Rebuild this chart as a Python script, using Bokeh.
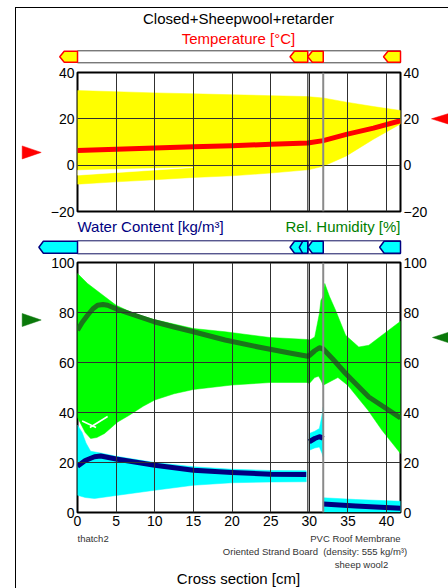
from bokeh.plotting import figure
from bokeh.models import Range1d, LinearAxis, FixedTicker, Span
from bokeh.layouts import column, row
from bokeh.core.properties import value
from bokeh.embed import file_html
from bokeh.resources import INLINE

# ------------------------------------------------------------------ data
TITLE = "Closed+Sheepwool+retarder"
X_TICKS = [0, 5, 10, 15, 20, 25, 30, 35, 40]
T_TICKS = [-20, 0, 20, 40]
M_TICKS = [0, 20, 40, 60, 80, 100]
LAYER_EDGES = [0, 29.8, 30.0, 31.8, 41.8]
LAYER_NAMES = ["thatch2", "PVC Roof Membrane",
               "Oriented Strand Board\u00a0\u00a0(density: 555 kg/m\u00b3)", "sheep wool2"]

# temperature [°C]
T_X    = [0, 5, 10, 15, 20, 25, 29.8, 30.0, 31.8, 34.8, 38.3, 41.8]
T_MEAN = [6.3, 6.9, 7.4, 7.9, 8.4, 9.0, 9.6, 9.7, 10.6, 13.3, 16.0, 19.2]
T_MAX  = [32.2, 31.7, 31.2, 30.8, 30.4, 30.0, 29.6, 29.5, 29.0, 27.2, 25.3, 23.6]
T_MIN  = [-8.2, -7.2, -6.3, -5.3, -4.6, -3.4, -2.0, -1.9, -0.5, 4.0, 11.2, 17.8]
T_GAP_X = [0, 15, 0]
T_GAP_Y = [-2.2, -1.0, -4.3]
T_BC_LEFT = 5.5
T_BC_RIGHT = 20.0

# relative humidity [%]
RH_X    = [0, 0.6, 1.3, 2.0, 2.6, 3.3, 3.9, 5.2, 7.5, 9.9, 12.5, 15, 19.1, 23.4,
           27.8, 29.8, 30.0, 30.7, 31.3, 31.8, 33.0, 34.7, 37.7, 41.8]
RH_MEAN = [72.9, 76.0, 78.9, 81.5, 82.9, 83.2, 82.9, 81.2, 78.8, 76.3, 74.2, 72.3, 69.0, 66.2,
           63.6, 62.5, 62.8, 64.7, 65.9, 65.4, 61.5, 55.6, 46.2, 37.8]
RH_TH_X_UP = [0, 1.3, 3.0, 5.0, 7.3, 9.9, 15, 19.1, 24.9, 29.8]
RH_TH_UP   = [95.6, 91.6, 87.6, 82.9, 79.6, 77.2, 73.6, 72.3, 70.0, 69.2]
RH_TH_X_LO = [0, 0.5, 1.0, 1.7, 2.5, 3.5, 5.2, 6.7, 8.5, 10, 12.5, 15, 20, 25, 29.8]
RH_TH_LO   = [38, 35, 32, 29.6, 30, 31.6, 36.2, 38.9, 42.5, 45, 47.5, 49.2, 51, 52, 52]
RH_OSB_X_UP = [29.8, 30.0, 30.7, 31.3, 31.5, 31.8]
RH_OSB_UP   = [69.2, 68.9, 70.2, 79.6, 84.9, 86.5]
RH_OSB_X_LO = [29.8, 30.0, 30.7, 31.2, 31.5, 31.8]
RH_OSB_LO   = [52.0, 51.6, 54.0, 54.5, 52.9, 50.9]
RH_WO_X_UP = [31.8, 32.0, 32.6, 33.4, 34.7, 36.4, 37.7, 41.8]
RH_WO_UP   = [88.0, 91.6, 86.5, 80.9, 70.9, 66.2, 66.9, 76.5]
RH_WO_X_LO = [31.8, 33.7, 35.0, 37.6, 39.4, 41.8]
RH_WO_LO   = [50.9, 54.0, 50.8, 40.9, 32.9, 23.6]
RH_GAP_XS = [[0.6, 2.4], [1.6, 3.9]]
RH_GAP_YS = [[36.6, 34.0], [34.0, 38.4]]
RH_BC_LEFT = 77.0
RH_BC_RIGHT = 70.0

# water content [kg/m³]
WC_TH_X_UP = [0, 0.6, 1.1, 1.7, 3.0, 5, 10, 15, 20, 25, 29.6]
WC_TH_UP   = [35.0, 32.0, 27.8, 24.5, 23.8, 22.5, 20.0, 18.3, 17.3, 16.8, 16.7]
WC_TH_X_LO = [0, 1.0, 2.2, 5, 10, 15, 20, 25, 29.6]
WC_TH_LO   = [6.9, 6.0, 5.6, 6.8, 8.9, 10.9, 11.9, 12.2, 12.3]
WC_TH_X    = [0, 1.0, 2.2, 3.0, 5, 10, 15, 20, 25, 29.6]
WC_TH_MEAN = [18.5, 20.8, 22.3, 22.6, 21.4, 18.9, 16.9, 16.0, 15.3, 15.2]
WC_OSB_X    = [30.0, 30.7, 31.3, 31.6, 31.8]
WC_OSB_UP   = [31.6, 32.5, 33.6, 38.2, 42.2]
WC_OSB_LO   = [24.9, 25.8, 26.2, 24.0, 22.2]
WC_OSB_MEAN = [28.3, 29.6, 30.3, 30.0, 29.6]
WC_WO_X    = [31.8, 36.0, 41.8]
WC_WO_UP   = [5.9, 5.2, 4.5]
WC_WO_LO   = [0.2, 0.2, 0.2]
WC_WO_MEAN = [3.4, 2.6, 1.7]

# monitor tags (left, right) in cm
TAG_T = [(-2.3, 0.0), (27.5, 29.8), (29.8, 31.8), (39.6, 41.8)]
TAG_M = [(-5.0, 0.0), (27.5, 29.8), (28.7, 29.8), (29.8, 31.8), (39.1, 41.8)]

# ------------------------------------------------------------------ layout geometry (page px)
FONT = "Liberation Sans"
PAGE_L, PAGE_R = 16, 448          # content area (inside the outer frame line)
FX0, FX1 = 77, 400                # plot frames
X0, X1 = LAYER_EDGES[0], LAYER_EDGES[-1]
PPC = (FX1 - FX0) / (X1 - X0)
ARROW_L_W = 45 - PAGE_L
ARROW_R_W = PAGE_R - 430
MAIN_BL, MAIN_BR = FX0 - 45, 430 - FX1

# vertical bands (page y)
HEAD_T = (8, 64)
TOP = (64, 72, 211, 218)          # canvas top, frame top, frame bottom, canvas bottom
HEAD_M = (218, 255)
BOT = (255, 262, 512, 532)
FOOT = (532, 588)


def tx(px):
    return X0 + (px - FX0) / PPC


def txt(p, x, y, s, size, color="black", align="center"):
    p.text(x=[x], y=[y], text=[s], text_font=value(FONT), text_font_size=value(size),
           text_color=color, text_align=value(align), text_baseline=value("middle"))


def bare(p):
    p.outline_line_color = None
    p.background_fill_color = "white"
    p.border_fill_color = "white"
    for g in p.grid:
        g.visible = False
    return p


def strip(band_):
    top, bot = band_
    p = figure(frame_width=PAGE_R - PAGE_L, frame_height=bot - top, min_border=0,
               x_range=Range1d(tx(PAGE_L), tx(PAGE_R)), y_range=Range1d(bot, top),
               x_axis_location=None, y_axis_location=None,
               output_backend="svg", toolbar_location=None)
    return bare(p)


def tag_shape(left, right, y_top, y_bot):
    n = min(4.5 / PPC, (right - left) * 0.4)
    return ([left, left + n, right, right, left + n],
            [(y_top + y_bot) / 2, y_top, y_top, y_bot, y_bot])


def bar(p, y_top, y_bot, tags, fill, line, outline):
    p.patch([X0, X1, X1, X0], [y_top, y_top, y_bot, y_bot], fill_color="white",
            line_color=outline, line_width=1)
    for l, r in tags:
        xs, ys = tag_shape(l, r, y_top + 0.5, y_bot - 0.5)
        p.patch(xs, ys, fill_color=fill, line_color=line, line_width=1.5)


def main_fig(bands, y_lo, y_hi, ticks, show_x):
    ctop, ftop, fbot, cbot = bands
    p = figure(frame_width=FX1 - FX0, frame_height=fbot - ftop,
               min_border_left=MAIN_BL, min_border_right=MAIN_BR,
               min_border_top=ftop - ctop, min_border_bottom=cbot - fbot,
               x_range=Range1d(X0, X1), y_range=Range1d(y_lo, y_hi),
               output_backend="svg", toolbar_location=None)
    p.outline_line_color = "black"
    p.outline_line_width = 2
    p.background_fill_color = "white"
    p.border_fill_color = "white"
    p.add_layout(LinearAxis(), "right")
    axes = list(p.yaxis) + ([p.xaxis[0]] if show_x else [])
    for ax in axes:
        ax.axis_line_color = None
        ax.major_tick_line_color = None
        ax.minor_tick_line_color = None
        ax.major_tick_in = 0
        ax.major_tick_out = 0
        ax.major_label_standoff = 3
        ax.major_label_text_font = FONT
        ax.major_label_text_font_size = "14px"
        ax.major_label_text_color = "black"
    for ax in p.yaxis:
        ax.ticker = FixedTicker(ticks=ticks)
    p.xaxis.ticker = FixedTicker(ticks=X_TICKS)
    if not show_x:
        p.xaxis.visible = False
    p.ygrid.ticker = FixedTicker(ticks=ticks)
    p.xgrid.ticker = FixedTicker(ticks=X_TICKS)
    for g in p.grid:
        g.grid_line_color = "#303030"
        g.grid_line_width = 1
        g.level = "glyph"
    for xe, col, w in [(LAYER_EDGES[1], "#202020", 1), (LAYER_EDGES[2], "#202020", 1),
                       (LAYER_EDGES[3], "#8a8a8a", 2)]:
        p.add_layout(Span(location=xe, dimension="height", line_color=col, line_width=w,
                          level="glyph"))
    return p


def side_fig(bands, y_range, width, xs, ys, color):
    ctop, ftop, fbot, cbot = bands
    p = figure(frame_width=width, frame_height=fbot - ftop,
               min_border_left=0, min_border_right=0,
               min_border_top=ftop - ctop, min_border_bottom=cbot - fbot,
               x_range=Range1d(0, width), y_range=y_range,
               x_axis_location=None, y_axis_location=None,
               output_backend="svg", toolbar_location=None)
    bare(p)
    p.patch(xs, ys, fill_color=color, line_color=color, line_width=0.5)
    return p


def band(p, xu, yu, xl, yl, color):
    r = p.patch(list(xu) + list(xl)[::-1], list(yu) + list(yl)[::-1],
                fill_color=color, line_color=color, line_width=0.5)
    r.level = "underlay"
    return r


# ------------------------------------------------------------------ header: title + temperature bar
h_t = strip(HEAD_T)
txt(h_t, tx(238), 18, TITLE, "15px")
txt(h_t, tx(238), 38, "Temperature [\u00b0C]", "15px", color="#ff0000")
bar(h_t, 50.3, 62.3, TAG_T, "#ffff00", "#ff0000", "#404040")

# ------------------------------------------------------------------ temperature plot
p_top = main_fig(TOP, -20, 40, T_TICKS, False)
band(p_top, T_X, T_MAX, T_X, T_MIN, "#ffff00")
g = p_top.patch(T_GAP_X, T_GAP_Y, fill_color="white", line_color="white", line_width=0.5)
g.level = "underlay"
p_top.line(T_X, T_MEAN, line_color="#ff0000", line_width=5, line_join="round")

ht = 6.5 / (TOP[2] - TOP[1]) * 60
a_tl = side_fig(TOP, p_top.y_range, ARROW_L_W, [5.7, 24.7, 5.7],
                [T_BC_LEFT + ht, T_BC_LEFT, T_BC_LEFT - ht], "#ff0000")
a_tr = side_fig(TOP, p_top.y_range, ARROW_R_W, [22, 1, 22],
                [T_BC_RIGHT + ht, T_BC_RIGHT, T_BC_RIGHT - ht], "#ff0000")

# ------------------------------------------------------------------ header: water content / RH bar
h_m = strip(HEAD_M)
txt(h_m, X0, 226, "Water Content [kg/m\u00b3]", "15px", color="#000080", align="left")
txt(h_m, X1, 226, "Rel. Humidity [%]", "15px", color="#008000", align="right")
bar(h_m, 240.3, 253.3, TAG_M, "#00ffff", "#000080", "#101060")

# ------------------------------------------------------------------ RH / water content plot
p_bot = main_fig(BOT, 0, 100, M_TICKS, True)
band(p_bot, RH_TH_X_UP, RH_TH_UP, RH_TH_X_LO, RH_TH_LO, "#00ff00")
band(p_bot, RH_OSB_X_UP, RH_OSB_UP, RH_OSB_X_LO, RH_OSB_LO, "#00ff00")
band(p_bot, RH_WO_X_UP, RH_WO_UP, RH_WO_X_LO, RH_WO_LO, "#00ff00")
gl = p_bot.multi_line(RH_GAP_XS, RH_GAP_YS, line_color="white", line_width=1.5)
gl.level = "underlay"
band(p_bot, WC_TH_X_UP, WC_TH_UP, WC_TH_X_LO, WC_TH_LO, "#00ffff")
band(p_bot, WC_OSB_X, WC_OSB_UP, WC_OSB_X, WC_OSB_LO, "#00ffff")
band(p_bot, WC_WO_X, WC_WO_UP, WC_WO_X, WC_WO_LO, "#00ffff")
p_bot.line(RH_X, RH_MEAN, line_color="#1a751a", line_width=5, line_join="round")
for xs_, ys_ in [(WC_TH_X, WC_TH_MEAN), (WC_OSB_X, WC_OSB_MEAN), (WC_WO_X, WC_WO_MEAN)]:
    p_bot.line(xs_, ys_, line_color="#000080", line_width=5, line_join="round")

hm = 6.5 / (BOT[2] - BOT[1]) * 100
a_bl = side_fig(BOT, p_bot.y_range, ARROW_L_W, [5.7, 24.7, 5.7],
                [RH_BC_LEFT + hm, RH_BC_LEFT, RH_BC_LEFT - hm], "#0a780a")
a_br = side_fig(BOT, p_bot.y_range, ARROW_R_W, [22, 2, 22],
                [RH_BC_RIGHT + hm, RH_BC_RIGHT, RH_BC_RIGHT - hm], "#0a780a")

# ------------------------------------------------------------------ footer: layer names + axis title
foot = strip(FOOT)
txt(foot, X0, 537.5, LAYER_NAMES[0], "9.5px", color="#333333", align="left")
txt(foot, X1, 537.5, LAYER_NAMES[1], "9.5px", color="#333333", align="right")
txt(foot, tx(314.5), 550.5, LAYER_NAMES[2], "9.5px", color="#333333")
txt(foot, tx(361), 563.5, LAYER_NAMES[3], "9.5px", color="#333333")
txt(foot, tx(238), 578, "Cross section [cm]", "15px")

layout = column(h_t, row(a_tl, p_top, a_tr), h_m, row(a_bl, p_bot, a_br), foot,
                margin=(7, 0, 0, 15),
                styles={"border-left": "1px solid black", "border-top": "1px solid black"})

open("out.html", "w").write(file_html(layout, INLINE))
